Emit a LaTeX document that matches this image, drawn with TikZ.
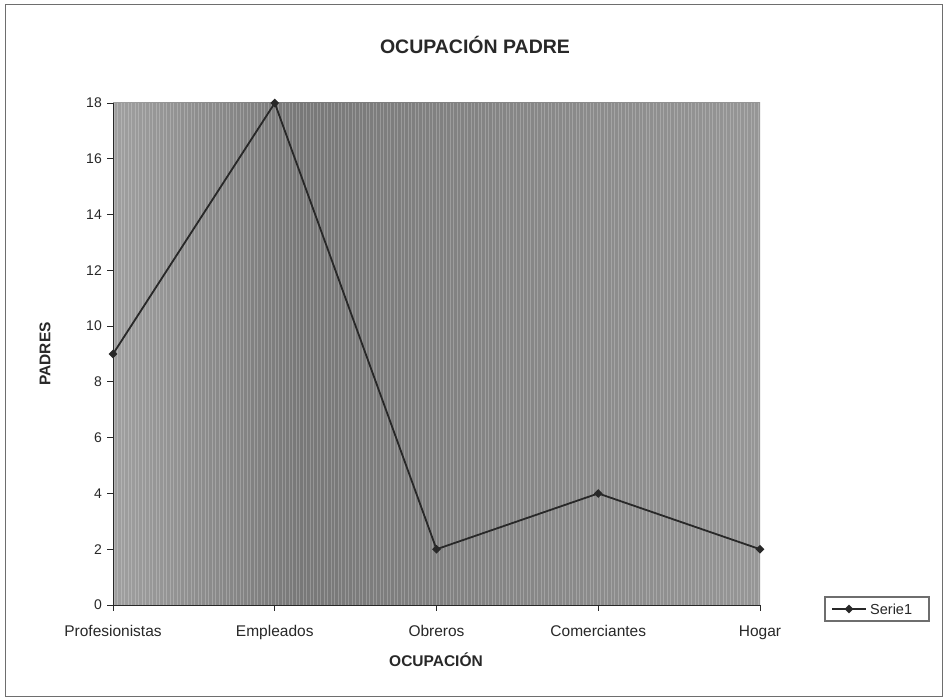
\documentclass[tikz,border=0pt]{standalone}
\usepackage{fontspec}
\setmainfont{Liberation Sans}
\usetikzlibrary{shapes.geometric}
\definecolor{plotlight}{RGB}{160,160,160}
\definecolor{plotdark}{RGB}{120,120,120}
\definecolor{plotright}{RGB}{150,150,150}
\definecolor{inkc}{RGB}{40,40,40}
\definecolor{framec}{RGB}{110,110,110}
\tikzset{
  frame/.style={draw=framec, line width=1pt},
  axisline/.style={draw=inkc, line width=1pt},
  tickline/.style={draw=inkc, line width=0.8pt},
  ticklabel/.style={anchor=east, inner sep=0pt, text=inkc, font=\fontsize{14}{16}\selectfont},
  catlabel/.style={anchor=base, inner sep=0pt, text=inkc, font=\fontsize{15.5}{18}\selectfont},
  axistitle/.style={inner sep=0pt, text=inkc, font=\bfseries\fontsize{15.5}{18}\selectfont},
  charttitle/.style={inner sep=0pt, text=inkc, font=\bfseries\fontsize{19.5}{22}\selectfont},
  datamark/.style={diamond, fill=inkc, inner sep=0pt, minimum size=9pt},
  dataline/.style={draw=inkc, line width=1.8pt, line join=round},
  legendbox/.style={draw=framec, line width=1.2pt, minimum width=104pt, minimum height=24pt, inner sep=0pt},
  legendtext/.style={anchor=west, inner sep=0pt, text=inkc, font=\fontsize{14.5}{17}\selectfont}
}
\begin{document}
\begin{tikzpicture}[x=1pt,y=-1pt]
\useasboundingbox (0,0) rectangle (946,700);
\fill[white] (0,0) rectangle (946,700);
\draw[frame] (5,5) rectangle (942,696);
% title
\node[charttitle] (title) at (475,45) {OCUPACIÓN PADRE};
% plot area
\shade[left color=plotlight, right color=plotdark] (113,103) rectangle (300,605);
\shade[left color=plotdark, right color=plotright] (299.5,103) rectangle (760,605);
\foreach \x in {114,117.5,...,759} \draw[white, opacity=0.22, line width=0.9pt] (\x,103) -- (\x,605);
% axes
\draw[axisline] (113,103) -- (113,605) -- (760,605);
\foreach \v in {0,2,...,18} {
  \draw[tickline] (107,{605-27.889*\v}) -- (113,{605-27.889*\v});
  \node[ticklabel] (yl\v) at (102,{605-27.889*\v}) {\v};
}
\foreach \i/\nm in {0/Profesionistas,1/Empleados,2/Obreros,3/Comerciantes,4/Hogar} {
  \draw[tickline] ({113+161.75*\i},605) -- ({113+161.75*\i},611);
  \node[catlabel] (cat\i) at ({113+161.75*\i},636) {\nm};
}
\node[axistitle] (xtitle) at (436,660) {OCUPACIÓN};
\node[axistitle, rotate=90] (ytitle) at (45,354) {PADRES};
% data
\node[datamark] (p0) at (113,{605-27.889*9}) {};
\node[datamark] (p1) at (274.75,{605-27.889*18}) {};
\node[datamark] (p2) at (436.5,{605-27.889*2}) {};
\node[datamark] (p3) at (598.25,{605-27.889*4}) {};
\node[datamark] (p4) at (760,{605-27.889*2}) {};
\draw[dataline] (p0.center) -- (p1.center) -- (p2.center) -- (p3.center) -- (p4.center);
% legend
\node[legendbox] (legend) at (877,609) {};
\coordinate (la) at (832,609);
\coordinate (lb) at (866,609);
\draw[dataline, line width=1.4pt] (la) -- (lb);
\node[datamark] (lm) at (849,609) {};
\node[legendtext] (lt) at (870,609) {Serie1};
\end{tikzpicture}
\end{document}
